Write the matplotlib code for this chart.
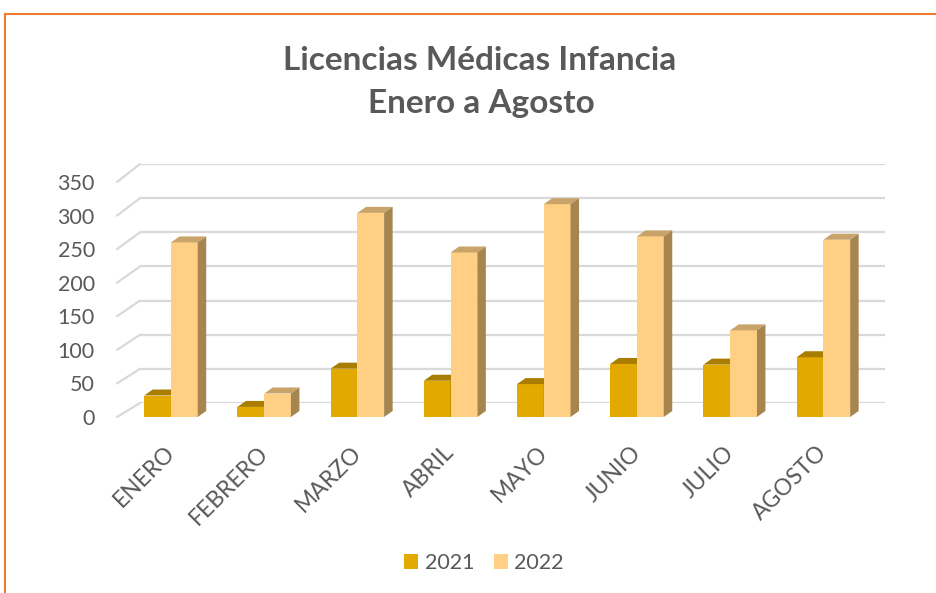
import matplotlib
matplotlib.use('Agg')
import matplotlib.pyplot as plt
from matplotlib.patches import Polygon, Patch, ConnectionPatch
from matplotlib.lines import Line2D
from matplotlib.transforms import ScaledTranslation
import numpy as np

# ---- data ----
categories = ['ENERO', 'FEBRERO', 'MARZO', 'ABRIL', 'MAYO', 'JUNIO', 'JULIO', 'AGOSTO']
series_names = ['2021', '2022']
values_2021 = [32, 15, 72, 54, 49, 79, 78, 89]
values_2022 = [260, 35, 304, 245, 317, 269, 129, 264]
y_ticks = [0, 50, 100, 150, 200, 250, 300, 350]
title_lines = ['Licencias Médicas Infancia', 'Enero a Agosto']

# ---- style ----
plt.rcParams['font.family'] = ['Lato', 'DejaVu Sans']
TXT = '#595959'
GRID = '#D9D9D9'
COL = {
    '2021': dict(front='#E2AA00', top='#A87D00', side='#8F6B00'),
    '2022': dict(front='#FFD084', top='#C9A46A', side='#A6854F'),
}

W, H = 936, 593
fig = plt.figure(figsize=(W / 100, H / 100), dpi=100)


def px(l, t, r, b):
    return [l / W, 1 - b / H, (r - l) / W, (b - t) / H]


# back wall (gridlines)
back = fig.add_axes(px(140, 164, 885, 403))
back.set_xlim(0, 1)
back.set_ylim(0, 350)
back.axis('off')
for v in y_ticks:
    back.axhline(v, color=GRID, lw=1.6, zorder=0)

# front plane (bars, ticks)
front = fig.add_axes(px(117, 182, 870, 417))
front.set_xlim(-0.579, 7.5)
front.set_ylim(0, 350)
front.patch.set_alpha(0)
for s in front.spines.values():
    s.set_visible(False)

# slanted floor/side lines joining front and back planes
for v in y_ticks:
    con = ConnectionPatch(xyA=(0, v), coordsA=front.get_yaxis_transform(),
                          xyB=(0, v), coordsB=back.get_yaxis_transform(),
                          color=GRID, lw=1.6, zorder=0)
    fig.add_artist(con)

x = np.arange(len(categories))
w = 0.287
DX = 8.5 / 93.2   # depth offset in data units (x)
DY = 6.0 / 0.671  # depth offset in data units (y)


def bar3d(ax, x0, h, cols, z):
    x1 = x0 + w
    ax.bar(x0, h, width=w, align='edge', color=cols['front'], zorder=z, lw=0)
    top = Polygon([(x0, h), (x1, h), (x1 + DX, h + DY), (x0 + DX, h + DY)],
                  closed=True, fc=cols['top'], ec='none', zorder=z)
    side = Polygon([(x1, 0), (x1, h), (x1 + DX, h + DY), (x1 + DX, DY)],
                   closed=True, fc=cols['side'], ec='none', zorder=z)
    ax.add_patch(top)
    ax.add_patch(side)


for i in range(len(categories)):
    bar3d(front, x[i] - w, values_2021[i], COL['2021'], 3 + 2 * i)
    bar3d(front, x[i], values_2022[i], COL['2022'], 4 + 2 * i)

front.set_yticks(y_ticks)
front.set_yticklabels([str(v) for v in y_ticks], fontsize=15.5, color=TXT)
front.set_xticks(x)
front.set_xticklabels(categories, fontsize=16.5, color=TXT, rotation=45,
                      ha='right', va='top', rotation_mode='anchor')
front.tick_params(axis='y', length=0, pad=16)
front.tick_params(axis='x', length=0, pad=18)
shift = ScaledTranslation(-5 / 72, 0, fig.dpi_scale_trans)
for lab in front.get_xticklabels():
    lab.set_transform(lab.get_transform() + shift)

# title
fig.text(480 / W, 1 - 60 / H, title_lines[0], ha='center', va='center',
         fontsize=24, fontweight='bold', color=TXT)
fig.text(481 / W, 1 - 104 / H, title_lines[1], ha='center', va='center',
         fontsize=24, fontweight='bold', color=TXT)

# legend
handles = [Patch(facecolor=COL[n]['front'], edgecolor='none') for n in series_names]
fig.legend(handles, series_names, loc='center', bbox_to_anchor=(484 / W, 1 - 563 / H),
           ncol=2, frameon=False, fontsize=15.5, labelcolor=TXT,
           handlelength=0.65, handleheight=0.65, handletextpad=0.3, columnspacing=0.9)

# chart area border (orange)
fig.add_artist(Line2D([5 / W, 1], [1 - 14 / H, 1 - 14 / H], color='#ED7D31', lw=1.5,
                      transform=fig.transFigure))
fig.add_artist(Line2D([5 / W, 5 / W], [1 - 14 / H, 0], color='#ED7D31', lw=1.5,
                      transform=fig.transFigure))

fig.savefig('out.png', dpi=100)
